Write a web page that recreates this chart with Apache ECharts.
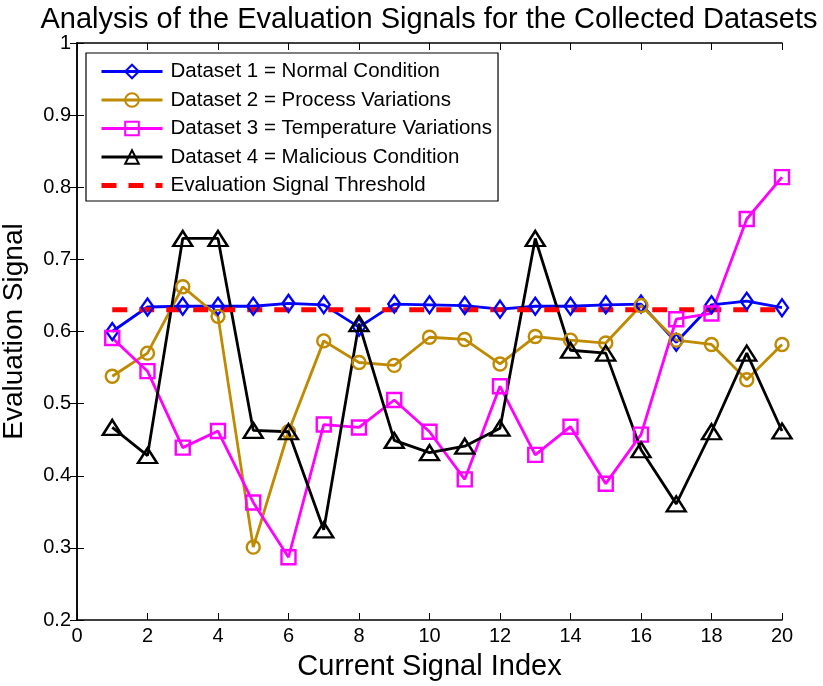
<!DOCTYPE html>
<html>
<head>
<meta charset="utf-8">
<script src="https://cdn.jsdelivr.net/npm/echarts@6/dist/echarts.min.js"></script>
<style>
  html, body { margin: 0; padding: 0; background: #fff; }
  #chart { width: 823px; height: 686px; }
</style>
</head>
<body>
<div id="chart"></div>
<script>
const signalIndex = [1, 2, 3, 4, 5, 6, 7, 8, 9, 10, 11, 12, 13, 14, 15, 16, 17, 18, 19, 20]
const normalCondition = [0.600, 0.634, 0.635, 0.635, 0.635, 0.639, 0.637, 0.606, 0.638, 0.637,
  0.636, 0.631, 0.635, 0.635, 0.637, 0.638, 0.585, 0.637, 0.642, 0.633]
const processVariations = [0.538, 0.570, 0.662, 0.621, 0.301, 0.461, 0.587, 0.557, 0.553, 0.592,
  0.589, 0.555, 0.593, 0.588, 0.584, 0.636, 0.588, 0.582, 0.533, 0.582]
const temperatureVariations = [0.591, 0.545, 0.439, 0.462, 0.363, 0.287, 0.471, 0.467, 0.505, 0.461,
  0.395, 0.524, 0.429, 0.468, 0.389, 0.457, 0.617, 0.625, 0.756, 0.814]
const maliciousCondition = [0.467, 0.428, 0.729, 0.729, 0.463, 0.461, 0.325, 0.611, 0.449, 0.432,
  0.441, 0.466, 0.729, 0.574, 0.570, 0.436, 0.361, 0.461, 0.570, 0.462]
const thresholdValue = 0.63

const seriesNames = [
  'Dataset 1 = Normal Condition',
  'Dataset 2 = Process Variations',
  'Dataset 3 = Temperature Variations',
  'Dataset 4 = Malicious Condition',
  'Evaluation Signal Threshold'
]

const font = 'Liberation Sans, Arial, Helvetica, sans-serif'

function pairs(values) {
  return signalIndex.map((x, i) => [x, values[i]])
}

function markerSeries(name, values, color, symbol, size) {
  return {
    name: name,
    type: 'line',
    data: pairs(values),
    symbol: symbol,
    symbolSize: size,
    lineStyle: { color: color, width: 2.8 },
    itemStyle: { color: 'rgba(0,0,0,0)', borderColor: color, borderWidth: 2.4 }
  }
}

const axisCommon = {
  type: 'value',
  axisLine: { show: true, lineStyle: { color: '#000', width: 1.5 } },
  axisTick: { show: true, inside: true, length: 7, lineStyle: { color: '#000', width: 1 } },
  splitLine: { show: false }
}

const chart = echarts.init(document.getElementById('chart'))
const option = {
  animation: false,
  backgroundColor: '#fff',
  title: {
    text: 'Analysis of the Evaluation Signals for the Collected Datasets',
    left: 424,
    textAlign: 'center',
    top: 0,
    textStyle: { fontFamily: font, fontSize: 29, fontWeight: 'normal', color: '#000' }
  },
  legend: {
    orient: 'vertical',
    left: 86,
    top: 53,
    padding: [8, 6, 5, 13],
    itemWidth: 61,
    itemHeight: 17,
    itemGap: 7.5,
    borderColor: '#000',
    borderWidth: 1.2,
    backgroundColor: '#fff',
    lineStyle: { width: 'inherit' },
    data: seriesNames.slice(0, 4).concat([{ name: seriesNames[4], itemStyle: { opacity: 0 } }]),
    textStyle: { fontFamily: font, fontSize: 20.5, color: '#000', padding: [0, 0, 0, 3] }
  },
  grid: { left: 77, right: 41, top: 43, bottom: 66, containLabel: false, outerBoundsMode: 'none' },
  xAxis: [
    Object.assign({}, axisCommon, {
      min: 0,
      max: 20,
      interval: 2,
      position: 'bottom',
      name: 'Current Signal Index',
      nameLocation: 'middle',
      nameGap: 32,
      nameTextStyle: { fontFamily: font, fontSize: 29, color: '#000' },
      axisLabel: { fontFamily: font, fontSize: 20, color: '#000', margin: 6 }
    }),
    Object.assign({}, axisCommon, {
      min: 0,
      max: 20,
      interval: 2,
      position: 'top',
      axisLabel: { show: false }
    })
  ],
  yAxis: [
    Object.assign({}, axisCommon, {
      min: 0.2,
      max: 1,
      interval: 0.1,
      position: 'left',
      name: 'Evaluation Signal',
      nameLocation: 'middle',
      nameGap: 49,
      nameTextStyle: { fontFamily: font, fontSize: 28, color: '#000' },
      axisLabel: { fontFamily: font, fontSize: 20, color: '#000', margin: 6 }
    }),
    Object.assign({}, axisCommon, {
      min: 0.2,
      max: 1,
      interval: 0.1,
      position: 'right',
      axisLabel: { show: false }
    })
  ],
  series: [
    markerSeries(seriesNames[0], normalCondition, '#0000ff', 'diamond', [12, 17]),
    markerSeries(seriesNames[1], processVariations, '#bf8a00', 'circle', 13),
    markerSeries(seriesNames[2], temperatureVariations, '#ff00ff', 'rect', 14),
    markerSeries(seriesNames[3], maliciousCondition, '#000000', 'triangle', [19, 15]),
    {
      name: seriesNames[4],
      type: 'line',
      data: pairs(signalIndex.map(() => thresholdValue)),
      symbol: 'none',
      lineStyle: { color: '#ff0000', width: 5, type: [15, 12] },
      itemStyle: { color: '#ff0000' }
    }
  ]
}
chart.setOption(option)
</script>
</body>
</html>
